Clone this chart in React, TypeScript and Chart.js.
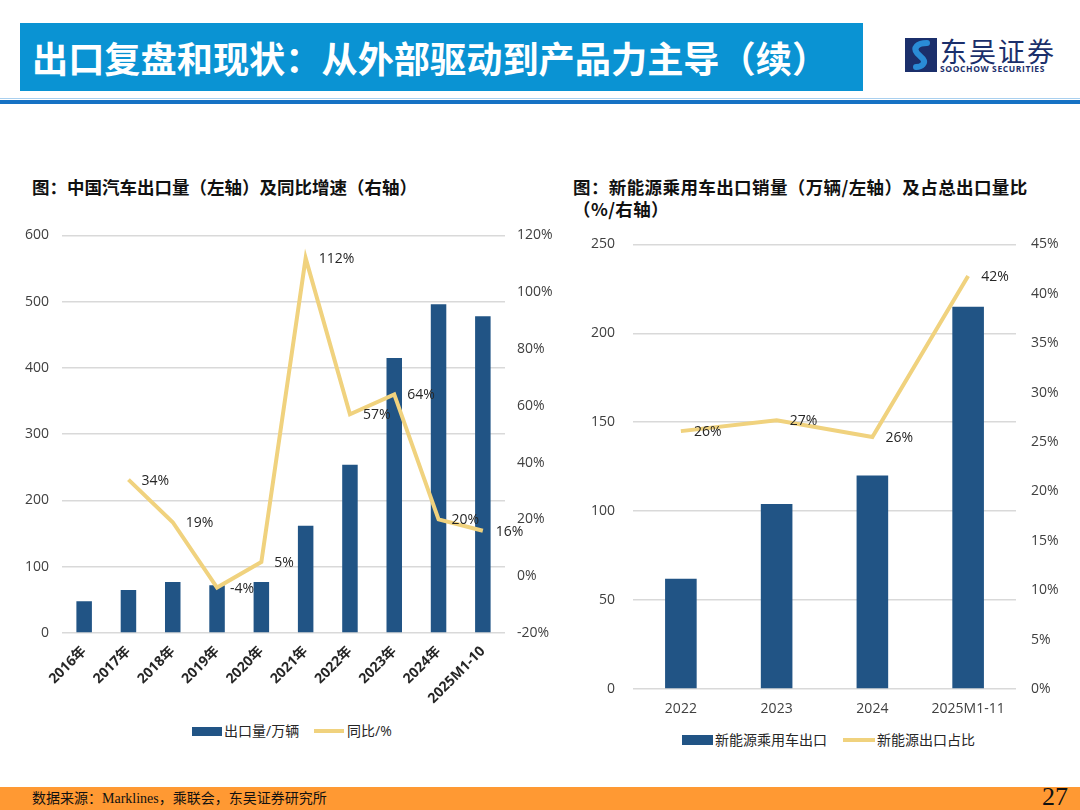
import { useEffect, useRef } from "react";
import { Chart, registerables } from "chart.js";

Chart.register(...registerables);

const exportYears = ["2016年", "2017年", "2018年", "2019年", "2020年", "2021年", "2022年", "2023年", "2024年", "2025M1-10"];
const exportVolume = [48, 65, 77, 72, 77, 162, 254, 415, 496, 478];
const exportYoY = [null, 34, 19, -4, 5, 112, 57, 64, 20, 16];

const nevYears = ["2022", "2023", "2024", "2025M1-11"];
const nevExport = [62, 104, 120, 215];
const nevShare = [26.1, 27.2, 25.5, 41.8];

const BAR = "#215485";
const LINE = "#F0D27E";
const TXT = "#404040";
const GRID = "#D9D9D9";
const FONT = '"Open Sans", "Noto Sans CJK SC", sans-serif';

// draws the % labels just right of each line point
const pointLabels = {
  id: "pointLabels",
  afterDatasetsDraw(chart: Chart) {
    const ctx = chart.ctx;
    chart.data.datasets.forEach((ds: any, i: number) => {
      if (ds.type !== "line") return;
      const meta = chart.getDatasetMeta(i);
      meta.data.forEach((pt: any, j: number) => {
        const v = ds.data[j];
        if (v == null) return;
        ctx.save();
        ctx.font = `14px ${FONT}`;
        ctx.fillStyle = "#262626";
        ctx.textAlign = "left";
        ctx.textBaseline = "middle";
        ctx.fillText(Math.round(v) + "%", pt.x + 13, pt.y + 1);
        ctx.restore();
      });
    });
  },
};

const ExportChart = () => {
  const canvasRef = useRef<HTMLCanvasElement | null>(null);
  useEffect(() => {
    if (!canvasRef.current) return;
    const chart = new Chart(canvasRef.current, {
      type: "bar",
      data: {
        labels: exportYears,
        datasets: [
          {
            type: "line",
            label: "同比/%",
            data: exportYoY,
            yAxisID: "y1",
            borderColor: LINE,
            borderWidth: 4,
            pointRadius: 0,
            tension: 0,
            order: 0,
          } as any,
          {
            type: "bar",
            label: "出口量/万辆",
            data: exportVolume,
            yAxisID: "y",
            backgroundColor: BAR,
            categoryPercentage: 1,
            barPercentage: 0.35,
            order: 1,
          },
        ],
      },
      options: {
        responsive: false,
        animation: false,
        layout: { padding: { top: 8, right: 0, left: 0, bottom: 0 } },
        plugins: { legend: { display: false }, tooltip: { enabled: false } },
        scales: {
          x: {
            grid: { display: false },
            border: { display: false },
            ticks: {
              color: "#262626",
              font: { family: FONT, size: 14, weight: "bold" },
              minRotation: 45,
              maxRotation: 45,
              padding: 2,
            },
            afterFit: (s: any) => {
              s.height = 87;
            },
          },
          y: {
            position: "left",
            min: 0,
            max: 600,
            ticks: { stepSize: 100, color: TXT, font: { family: FONT, size: 14 }, padding: 13 },
            grid: { color: GRID, lineWidth: 1.5, drawTicks: false },
            border: { display: false },
            afterFit: (s: any) => {
              s.width = 62;
            },
          },
          y1: {
            position: "right",
            min: -20,
            max: 120,
            ticks: {
              stepSize: 20,
              color: TXT,
              font: { family: FONT, size: 14 },
              padding: 12,
              callback: (v: any) => v + "%",
            },
            grid: { display: false, drawTicks: false },
            border: { display: false },
            afterFit: (s: any) => {
              s.width = 55;
            },
          },
        },
      },
      plugins: [pointLabels],
    });
    return () => chart.destroy();
  }, []);
  return <canvas ref={canvasRef} width={560} height={506} />;
};

const NevChart = () => {
  const canvasRef = useRef<HTMLCanvasElement | null>(null);
  useEffect(() => {
    if (!canvasRef.current) return;
    const chart = new Chart(canvasRef.current, {
      type: "bar",
      data: {
        labels: nevYears,
        datasets: [
          {
            type: "line",
            label: "新能源出口占比",
            data: nevShare,
            yAxisID: "y1",
            borderColor: LINE,
            borderWidth: 4,
            pointRadius: 0,
            tension: 0,
            order: 0,
          } as any,
          {
            type: "bar",
            label: "新能源乘用车出口",
            data: nevExport,
            yAxisID: "y",
            backgroundColor: BAR,
            categoryPercentage: 1,
            barPercentage: 0.33,
            order: 1,
          },
        ],
      },
      options: {
        responsive: false,
        animation: false,
        layout: { padding: { top: 10, right: 0, left: 0, bottom: 0 } },
        plugins: { legend: { display: false }, tooltip: { enabled: false } },
        scales: {
          x: {
            grid: { display: false },
            border: { display: false },
            ticks: { color: TXT, font: { family: FONT, size: 14 }, padding: 4 },
            afterFit: (s: any) => {
              s.height = 31;
            },
          },
          y: {
            position: "left",
            min: 0,
            max: 250,
            ticks: { stepSize: 50, color: TXT, font: { family: FONT, size: 14 }, padding: 18 },
            grid: { color: GRID, lineWidth: 1.5, drawTicks: false },
            border: { display: false },
            afterFit: (s: any) => {
              s.width = 63;
            },
          },
          y1: {
            position: "right",
            min: 0,
            max: 45,
            ticks: {
              stepSize: 5,
              color: TXT,
              font: { family: FONT, size: 14 },
              padding: 15,
              callback: (v: any) => v + "%",
            },
            grid: { display: false, drawTicks: false },
            border: { display: false },
            afterFit: (s: any) => {
              s.width = 64;
            },
          },
        },
      },
      plugins: [pointLabels],
    });
    return () => chart.destroy();
  }, []);
  return <canvas ref={canvasRef} width={510} height={502} />;
};

const abs = (left: number, top: number, extra: any = {}) => ({
  position: "absolute" as const,
  left,
  top,
  ...extra,
});

const LegendText = ({ x, y, text }: { x: number; y: number; text: string }) => (
  <div style={abs(x, y, { fontSize: 14, color: "#262626", lineHeight: "18px", whiteSpace: "nowrap" })}>{text}</div>
);

export default function App() {
  useEffect(() => {
    document.body.style.margin = "0";
    document.body.style.overflow = "hidden";
  }, []);
  return (
    <div
      style={{
        position: "relative",
        width: 1080,
        height: 810,
        background: "#fff",
        overflow: "hidden",
        fontFamily: FONT,
      }}
    >
      {/* header */}
      <div
        style={abs(20, 23, {
          width: 843,
          height: 68,
          background: "#0A93D3",
          color: "#fff",
          fontFamily: '"Noto Sans CJK SC", sans-serif',
          fontWeight: 700,
          fontSize: 36.2,
          lineHeight: "68px",
          paddingLeft: 12,
          boxSizing: "border-box",
          whiteSpace: "nowrap",
        })}
      >
        出口复盘和现状：从外部驱动到产品力主导（续）
      </div>
      {/* logo */}
      <svg style={abs(905, 38)} width={32} height={34} viewBox="0 0 32 34">
        <rect width="32" height="34" fill="#1B2F6B" />
        <path
          d="M22 5 C12 5 8 10 12 15 L18 21 C21 25 17 29 11 29"
          stroke="#2A8CD6"
          strokeWidth="6"
          fill="none"
          strokeLinecap="round"
        />
      </svg>
      <div
        style={abs(940, 35, {
          fontFamily: '"Noto Sans CJK SC", sans-serif',
          fontSize: 27,
          color: "#1B2F6B",
          lineHeight: "32px",
          letterSpacing: 2,
        })}
      >
        东吴证券
      </div>
      <div
        style={abs(940, 64, {
          fontSize: 8.5,
          fontWeight: 700,
          color: "#1B2F6B",
          lineHeight: "10px",
          letterSpacing: 0.6,
          whiteSpace: "nowrap",
        })}
      >
        SOOCHOW SECURITIES
      </div>
      <div style={abs(0, 98, { width: 1080, height: 1, background: "#A9D0EF" })} />
      <div style={abs(0, 100, { width: 1080, height: 4, background: "#1672C4" })} />

      {/* chart titles */}
      <div
        style={abs(32, 176, {
          fontFamily: '"Noto Sans CJK SC", sans-serif',
          fontWeight: 700,
          fontSize: 17.5,
          color: "#111",
          lineHeight: "22px",
          whiteSpace: "nowrap",
        })}
      >
        图：中国汽车出口量（左轴）及同比增速（右轴）
      </div>
      <div
        style={abs(573, 176, {
          fontFamily: '"Noto Sans CJK SC", sans-serif',
          fontWeight: 700,
          fontSize: 17.5,
          color: "#111",
          lineHeight: "22px",
          letterSpacing: 0.4,
          width: 480,
        })}
      >
        图：新能源乘用车出口销量（万辆/左轴）及占总出口量比（%/右轴）
      </div>

      {/* charts */}
      <div style={abs(0, 214)}>
        <ExportChart />
      </div>
      <div style={abs(570, 218)}>
        <NevChart />
      </div>

      {/* legends */}
      <div style={abs(192, 727, { width: 30, height: 9, background: BAR })} />
      <LegendText x={224} y={722} text="出口量/万辆" />
      <div style={abs(314, 729, { width: 30, height: 4, background: LINE })} />
      <LegendText x={347} y={722} text="同比/%" />

      <div style={abs(682, 735, { width: 31, height: 10, background: BAR })} />
      <LegendText x={715} y={731} text="新能源乘用车出口" />
      <div style={abs(843, 738, { width: 32, height: 4, background: LINE })} />
      <LegendText x={877} y={731} text="新能源出口占比" />

      {/* footer */}
      <div style={abs(0, 787, { width: 1080, height: 23, background: "#FF9933" })} />
      <div
        style={abs(32, 789, {
          fontFamily: '"Liberation Serif", "Noto Sans CJK SC", serif',
          fontSize: 14,
          color: "#111",
          lineHeight: "20px",
          whiteSpace: "nowrap",
        })}
      >
        数据来源：Marklines，乘联会，东吴证券研究所
      </div>
      <div
        style={abs(1042, 783, {
          fontFamily: '"Liberation Serif", serif',
          fontSize: 26,
          color: "#111",
          lineHeight: "28px",
        })}
      >
        27
      </div>
    </div>
  );
}
